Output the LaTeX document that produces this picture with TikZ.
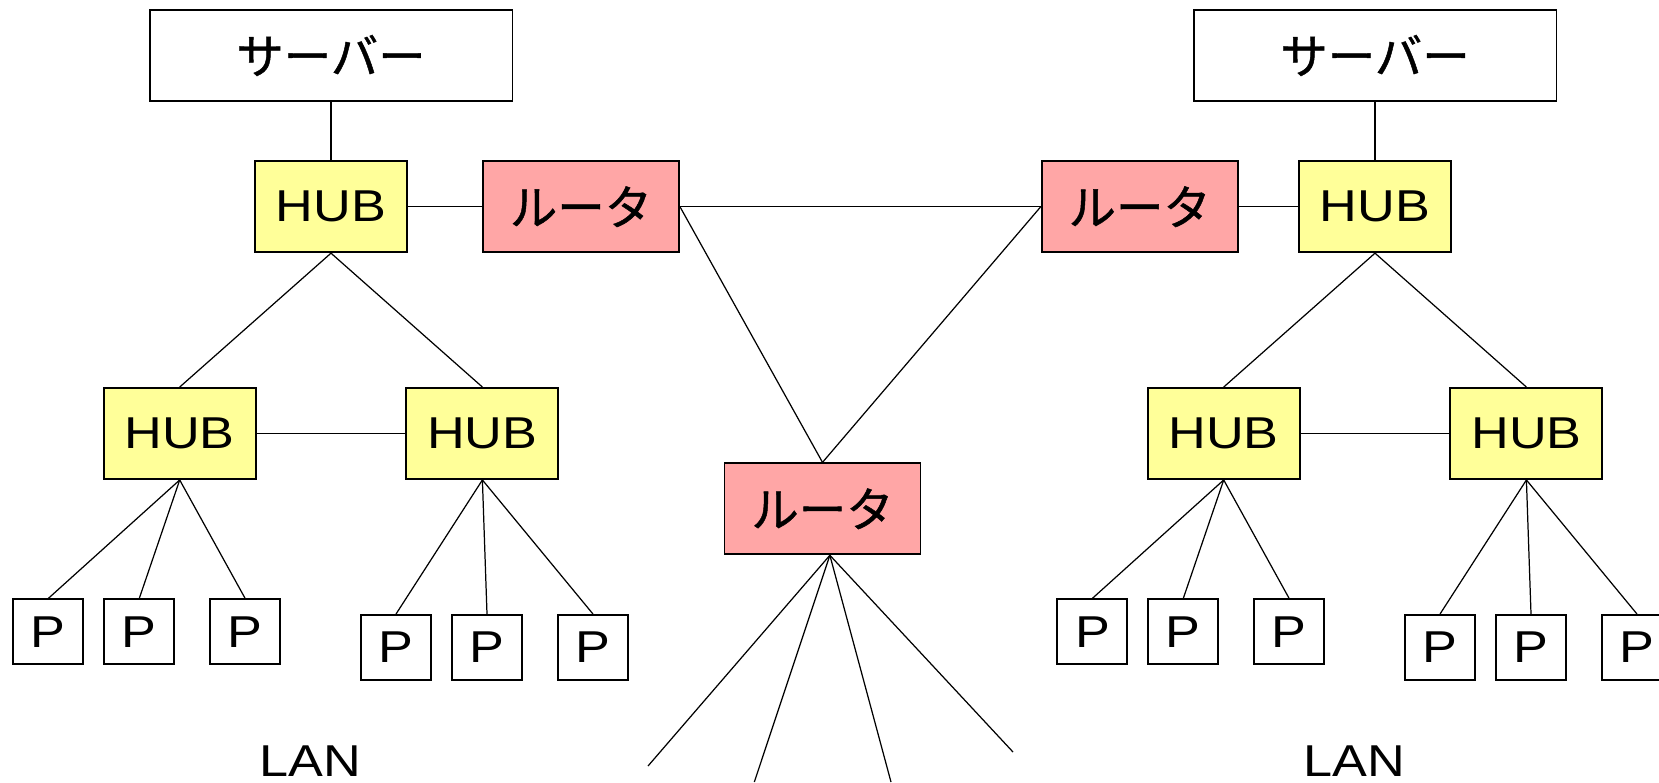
\documentclass[tikz,border=0pt]{standalone}
\usepackage{fontspec}
\setmainfont{Liberation Sans}[FakeStretch=1.17]
\newfontfamily\jp{Noto Sans CJK JP}[FakeBold=1]

\definecolor{hubyellow}{RGB}{255,255,153}
\definecolor{routerpink}{RGB}{255,166,166}

\tikzset{
  box/.style={draw, line width=1.1pt, inner sep=0pt,
    font=\fontsize{25.4}{30}\selectfont},
  server/.style={box, fill=white, minimum width=7.26cm, minimum height=1.82cm,
    font=\jp\fontsize{27}{30}\selectfont},
  hub/.style={box, fill=hubyellow, minimum width=3.04cm, minimum height=1.82cm},
  router/.style={box, fill=routerpink, minimum width=3.92cm, minimum height=1.82cm,
    font=\jp\fontsize{27}{30}\selectfont},
  pc/.style={box, fill=white, minimum width=1.4cm, minimum height=1.3cm},
  lanlabel/.style={anchor=base, inner sep=0pt, font=\fontsize{25.4}{30}\selectfont},
  link/.style={line width=0.7pt},
}

\begin{document}
\begin{tikzpicture}[x=0.02cm, y=-0.02cm]
  \clip (0,0) rectangle (1659,782);

  % one LAN on each side, the right one is the same tree moved over
  \foreach \side/\dx in {l/0, r/1044} {
    \begin{scope}[shift={(\dx,0)}]
      \node[server] (\side-srv) at (331,55.5) {サーバー};
      \node[hub] (\side-hub) at (331,206.7) {HUB};
      \node[hub] (\side-huba) at (179.7,433.5) {HUB};
      \node[hub] (\side-hubb) at (482.4,433.5) {HUB};
      \foreach \i/\x in {1/48.4, 2/139.3, 3/245.1}
        \node[pc] (\side-pa\i) at (\x,631.8) {P};
      \foreach \i/\x in {1/396, 2/487, 3/593}
        \node[pc] (\side-pb\i) at (\x,647.5) {P};
      \node[lanlabel] (\side-lan) at (310,776) {LAN};

      \draw[link] (\side-srv) -- (\side-hub);
      \draw[link] (\side-hub.south) -- (\side-huba.north);
      \draw[link] (\side-hub.south) -- (\side-hubb.north);
      \draw[link] (\side-huba) -- (\side-hubb);
      \foreach \i in {1,2,3} {
        \draw[link] (\side-huba.south) -- (\side-pa\i.north);
        \draw[link] (\side-hubb.south) -- (\side-pb\i.north);
      }
    \end{scope}
  }

  % routers between the two LANs
  \node[router] (lrt) at (581,206.7) {ルータ};
  \node[router] (rrt) at (1139.7,206.7) {ルータ};
  \node[router] (crt) at (822.5,508.8) {ルータ};

  \draw[link] (l-hub) -- (lrt);
  \draw[link] (rrt) -- (r-hub);
  \draw[link] (lrt.east) -- (rrt.west);
  \draw[link] (lrt.east) -- (crt.north);
  \draw[link] (rrt.west) -- (crt.north);

  % lines running off the bottom edge
  \coordinate (w1) at (648,766);
  \coordinate (w2) at (754.3,782);
  \coordinate (w3) at (891,782);
  \coordinate (w4) at (1013,752);
  \foreach \w in {w1,w2,w3,w4}
    \draw[link] (crt.-81) -- (\w);
\end{tikzpicture}
\end{document}
